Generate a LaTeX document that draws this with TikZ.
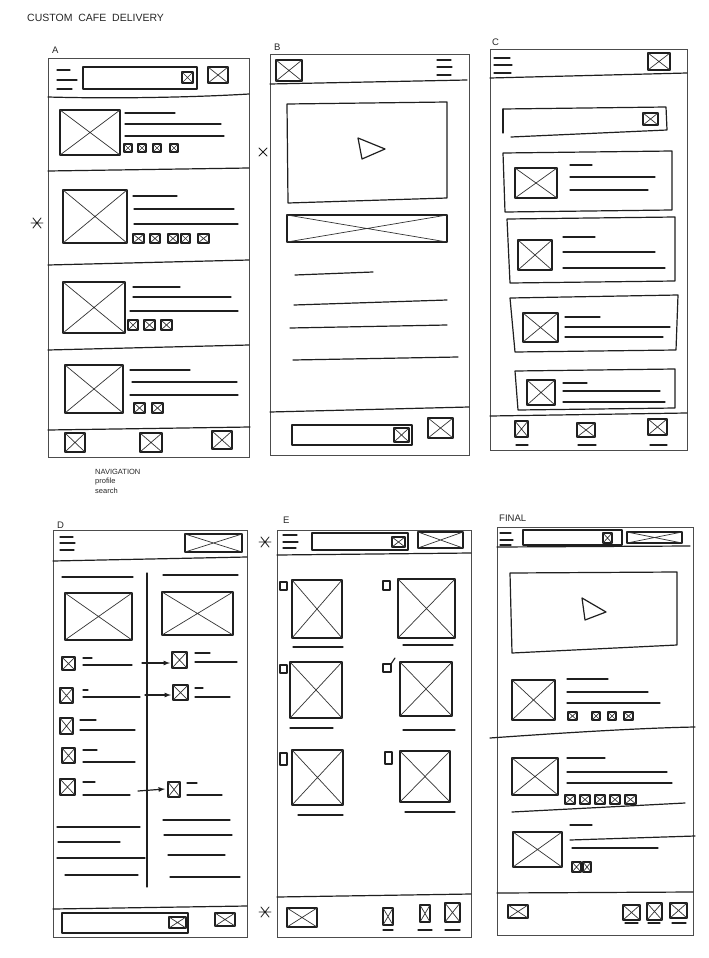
\documentclass[tikz,border=0pt]{standalone}
\usepackage{fontspec}
\setmainfont{Liberation Sans}
\begin{document}
\begin{tikzpicture}[x=1pt,y=-1pt,
  frame/.style={draw=black!70, line width=0.7pt},
  mk/.style={draw=black!88, line width=1.2pt, line cap=round, line join=round},
  diag/.style={draw=black!80, line width=0.7pt, line cap=round},
  lbl/.style={font=\fontsize{9.5}{10}\selectfont, anchor=west, inner sep=0pt, text=black!85},
  note/.style={font=\fontsize{7.5}{8}\selectfont, anchor=west, inner sep=0pt, text=black!85}]
\newcommand\xbx[4]{\draw[mk] (#1,#2) rectangle (#3,#4); \draw[diag] (#1,#2) -- (#3,#4) (#1,#4) -- (#3,#2);}
\newcommand\hln[3]{\draw[mk] (#1,#3) -- (#2,#3);}
\newcommand\astx[2]{\draw[mk, line width=0.8pt] (#1-6,#2) -- (#1+6,#2) (#1-4,#2-5) -- (#1+4,#2+5) (#1-4,#2+5) -- (#1+4,#2-5);}
\fill[white] (0,0) rectangle (709,958);
\useasboundingbox (0,0) rectangle (709,958);

% ---------- title ----------
\node[lbl, font=\fontsize{10.5}{11}\selectfont] (title) at (27,18) {CUSTOM\ \ CAFE\ \ DELIVERY};

% ================= A =================
\node[lbl] (la) at (52,50) {A};
\draw[frame] (48,58) rectangle (249,457);
\draw[mk] (48,97) .. controls (120,99) and (200,97) .. (249,94);
\hln{57}{70}{70}\hln{57}{77}{80}\hln{57}{72}{89}
\draw[mk] (83,67) rectangle (197,89);
\xbx{182}{72}{193}{83}
\xbx{208}{67}{228}{83}
% item 1
\xbx{60}{110}{120}{155}
\hln{125}{175}{113}\hln{125}{221}{124}\hln{125}{224}{136}
\xbx{124}{144}{132}{152}\xbx{138}{144}{146}{152}\xbx{153}{144}{161}{152}\xbx{170}{144}{178}{152}
\draw[mk] (48,171) -- (249,168);
% item 2
\xbx{63}{190}{127}{243}
\hln{133}{177}{196}\hln{134}{234}{209}\hln{134}{238}{224}
\xbx{133}{234}{144}{243}\xbx{150}{234}{160}{243}\xbx{168}{234}{178}{243}\xbx{181}{234}{190}{243}\xbx{198}{234}{209}{243}
\draw[mk] (48,265) -- (249,260);
% item 3
\xbx{63}{282}{125}{333}
\hln{133}{180}{287}\hln{133}{231}{297}\hln{130}{238}{311}
\xbx{128}{320}{138}{330}\xbx{144}{320}{155}{330}\xbx{161}{320}{172}{330}
\draw[mk] (48,350) -- (249,345);
% item 4
\xbx{65}{365}{123}{413}
\hln{130}{190}{370}\hln{132}{237}{382}\hln{130}{238}{395}
\xbx{134}{403}{145}{413}\xbx{152}{403}{163}{413}
\draw[mk] (48,430) -- (250,427);
\xbx{65}{433}{85}{452}\xbx{140}{433}{162}{452}\xbx{212}{431}{232}{449}
\astx{37}{223}
\node[note] (n1) at (95,472) {NAVIGATION};
\node[note] (n2) at (95,482) {profile};
\node[note] (n3) at (95,491) {search};

% ================= B =================
\node[lbl] (lb) at (274,47) {B};
\draw[frame] (270,54) rectangle (469,455);
\draw[mk] (270,84) -- (467,80);
\xbx{276}{60}{302}{81}
\hln{437}{451}{60}\hln{437}{452}{67}\hln{437}{451}{75}
\draw[mk] (287,104) -- (447,102) -- (447,198) -- (288,203) -- cycle;
\draw[mk] (358,138) -- (385,149) -- (362,159) -- cycle;
\xbx{287}{215}{447}{242}
\draw[mk] (295,275) -- (373,272);
\draw[mk] (294,305) -- (447,300);
\draw[mk] (290,328) -- (447,325);
\draw[mk] (293,360) -- (458,357);
\draw[mk] (270,412) -- (469,407);
\draw[mk] (292,425) rectangle (412,445);
\xbx{394}{428}{409}{442}
\xbx{428}{418}{453}{438}
\draw[mk, line width=0.9pt] (259,148) -- (267,156) (259,156) -- (267,148);

% ================= C =================
\node[lbl] (lc) at (492,42) {C};
\draw[frame] (490,49) rectangle (687,450);
\draw[mk] (490,78) -- (687,73);
\hln{494}{510}{58}\hln{494}{512}{65}\hln{494}{511}{73}
\xbx{648}{53}{670}{70}
\draw[mk] (503,109) -- (666,107) -- (667,130) -- (511,137);
\draw[mk] (503,109) -- (503,133);
\xbx{643}{113}{658}{125}
% cards
\draw[mk] (503,153) -- (672,151) -- (672,210) -- (505,212) -- cycle;
\xbx{515}{168}{557}{198}
\hln{570}{592}{165}\hln{570}{655}{177}\hln{570}{648}{190}
\draw[mk] (507,219) -- (675,217) -- (675,281) -- (510,283) -- cycle;
\xbx{518}{240}{552}{270}
\hln{563}{595}{237}\hln{563}{655}{252}\hln{563}{665}{268}
\draw[mk] (510,298) -- (678,295) -- (676,350) -- (515,352) -- cycle;
\xbx{523}{313}{558}{342}
\hln{565}{600}{317}\hln{565}{670}{327}\hln{565}{663}{337}
\draw[mk] (515,371) -- (675,369) -- (675,408) -- (518,410) -- cycle;
\xbx{527}{380}{555}{405}
\hln{563}{587}{383}\hln{563}{660}{391}\hln{563}{665}{402}
\draw[mk] (490,416) -- (687,413);
\xbx{515}{421}{528}{437}\xbx{577}{423}{595}{437}\xbx{648}{419}{667}{435}
\hln{516}{528}{445}\hln{578}{596}{445}\hln{650}{667}{445}

% ================= D =================
\node[lbl] (ld) at (57,525) {D};
\draw[frame] (53,530) rectangle (247,937);
\draw[mk] (53,561) -- (247,557);
\hln{60}{73}{537}\hln{60}{75}{543}\hln{60}{74}{550}
\xbx{185}{534}{242}{552}
\draw[mk] (147,573) -- (147,887);
\hln{62}{133}{577}
\xbx{65}{593}{132}{640}
\hln{163}{238}{575}
\xbx{162}{592}{233}{635}
% rows
\xbx{62}{657}{75}{670}\hln{83}{92}{658}\hln{83}{132}{665}
\draw[mk,-latex] (142,663) -- (170,663);
\xbx{172}{652}{187}{668}\hln{195}{210}{653}\hln{195}{237}{662}
\xbx{60}{688}{73}{703}\hln{83}{88}{690}\hln{83}{140}{697}
\draw[mk,-latex] (145,695) -- (171,695);
\xbx{173}{685}{188}{700}\hln{195}{203}{688}\hln{195}{230}{697}
\xbx{60}{718}{73}{734}\hln{80}{96}{720}\hln{80}{135}{730}
\xbx{62}{748}{75}{763}\hln{83}{97}{750}\hln{83}{135}{762}
\xbx{60}{779}{75}{795}\hln{83}{95}{782}\hln{83}{130}{795}
\draw[mk,-latex] (138,791) -- (165,789);
\xbx{168}{782}{180}{797}\hln{187}{197}{783}\hln{187}{222}{795}
\hln{57}{140}{827}\hln{58}{120}{842}\hln{57}{145}{858}\hln{65}{138}{875}
\hln{163}{230}{820}\hln{164}{232}{835}\hln{168}{225}{855}\hln{170}{240}{877}
\draw[mk] (53,909) -- (247,906);
\draw[mk] (62,913) rectangle (188,933);
\xbx{169}{917}{186}{928}
\xbx{215}{913}{235}{926}

% ================= E =================
\node[lbl] (le) at (283,520) {E};
\draw[frame] (277,530) rectangle (471,937);
\draw[mk] (277,555) -- (471,553);
\hln{283}{297}{535}\hln{283}{298}{542}\hln{283}{296}{548}
\draw[mk] (312,533) rectangle (408,550);
\xbx{392}{537}{405}{547}
\xbx{418}{532}{463}{548}
\astx{265}{542}
\astx{265}{912}
% grid
\xbx{292}{580}{342}{638}\xbx{398}{579}{455}{638}
\hln{293}{343}{647}\hln{403}{453}{645}
\draw[mk] (280,582) rectangle (287,590); \draw[mk] (383,581) rectangle (390,590);
\xbx{290}{662}{342}{718}\xbx{400}{662}{452}{716}
\hln{290}{333}{728}\hln{403}{455}{730}
\draw[mk] (280,665) rectangle (287,673); \draw[mk] (383,664) rectangle (391,672);
\draw[mk] (391,664) -- (395,658);
\xbx{292}{750}{343}{805}\xbx{400}{751}{450}{802}
\hln{298}{343}{815}\hln{405}{455}{812}
\draw[mk] (280,753) rectangle (287,765); \draw[mk] (385,752) rectangle (392,764);
\draw[mk] (277,897) -- (471,894);
\xbx{287}{908}{317}{927}
\xbx{383}{908}{393}{925}\xbx{420}{905}{430}{922}\xbx{445}{903}{460}{922}
\hln{383}{393}{930}\hln{418}{432}{930}\hln{445}{460}{930}

% ================= FINAL =================
\node[lbl] (lf) at (499,518) {FINAL};
\draw[frame] (497,527) rectangle (693,935);
\draw[mk] (497,547) -- (690,546);
\hln{500}{511}{533}\hln{500}{513}{540}\hln{500}{511}{545}
\draw[mk] (523,530) rectangle (622,545);
\xbx{603}{533}{612}{543}
\xbx{627}{532}{682}{543}
\draw[mk] (510,573) -- (677,572) -- (677,645) -- (512,653) -- cycle;
\draw[mk] (582,598) -- (606,612) -- (585,620) -- cycle;
% item 1
\xbx{512}{680}{555}{720}
\hln{567}{608}{679}\hln{567}{648}{692}\hln{567}{660}{703}
\xbx{568}{712}{577}{720}\xbx{592}{712}{600}{720}\xbx{608}{712}{616}{720}\xbx{624}{712}{633}{720}
\draw[mk] (490,738) .. controls (560,733) and (640,728) .. (695,727);
% item 2
\xbx{512}{758}{558}{795}
\hln{567}{605}{758}\hln{567}{667}{772}\hln{567}{672}{783}
\xbx{565}{795}{575}{804}\xbx{580}{795}{590}{804}\xbx{595}{795}{605}{804}\xbx{610}{795}{620}{804}\xbx{625}{795}{636}{804}
\draw[mk] (512,812) -- (685,803);
% item 3
\xbx{513}{832}{562}{867}
\hln{570}{592}{825}
\draw[mk] (570,840) -- (695,836);
\hln{572}{658}{848}
\xbx{572}{862}{581}{872}\xbx{583}{862}{591}{872}
\draw[mk] (497,893) -- (693,892);
\xbx{508}{905}{528}{918}
\xbx{623}{905}{640}{920}\xbx{647}{903}{662}{920}\xbx{670}{903}{687}{918}
\hln{625}{638}{923}\hln{648}{660}{923}\hln{672}{686}{923}
\end{tikzpicture}
\end{document}
